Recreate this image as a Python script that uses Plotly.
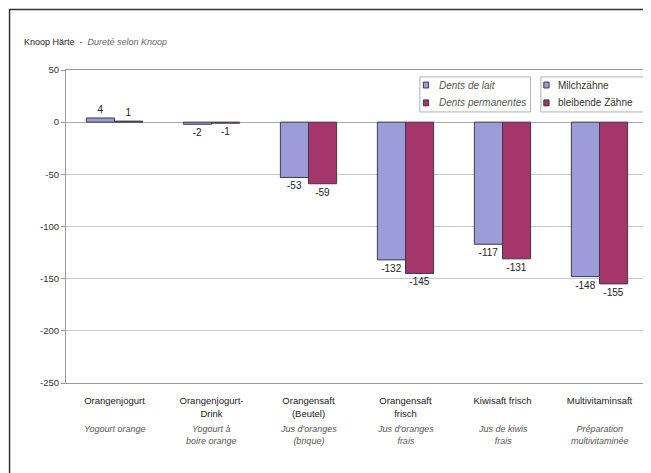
import plotly.graph_objects as go

categories_de = ["Orangenjogurt", "Orangenjogurt-<br>Drink", "Orangensaft<br>(Beutel)",
                 "Orangensaft<br>frisch", "Kiwisaft frisch", "Multivitaminsaft"]
categories_fr = ["Yogourt orange", "Yogourt à<br>boire orange", "Jus d'oranges<br>(brique)",
                 "Jus d'oranges<br>frais", "Jus de kiwis<br>frais", "Préparation<br>multivitaminée"]
keys = ["c1", "c2", "c3", "c4", "c5", "c6"]
milchzaehne = [4, -2, -53, -132, -117, -148]
bleibende = [1, -1, -59, -145, -131, -155]
y_ticks = [50, 0, -50, -100, -150, -200, -250]
y_ticktext = ["50", "0", "-50", "-100", "-150", "-200", "-250"]
series_de = ["Milchzähne", "bleibende Zähne"]
series_fr = ["Dents de lait", "Dents permanentes"]

BLUE = "#9d9bd8"
RED = "#a6356c"
COLORS = [BLUE, RED]
FONT = "Liberation Sans, Arial, sans-serif"
EDGE = "#3a3a4a"

fig = go.Figure()
for name, vals, col in zip(series_de, [milchzaehne, bleibende], COLORS):
    fig.add_trace(go.Bar(x=keys, y=vals, name=name, marker_color=col,
                         marker_line=dict(color=EDGE, width=1),
                         text=[str(v) for v in vals], textposition="outside",
                         textfont=dict(size=10, color="#222"), cliponaxis=False))

for k, fr in zip(keys, categories_fr):
    fig.add_annotation(x=k, xref="x", y=-0.125, yref="paper", yanchor="top",
                       text="<i>" + fr + "</i>", showarrow=False,
                       font=dict(family=FONT, size=9, color="#555"))

fig.add_annotation(x=-0.0756, xref="paper", y=1.089, yref="paper", xanchor="left",
                   yanchor="middle",
                   text="Knoop Härte  -  <i><span style='color:#666'>Dureté selon Knoop</span></i>",
                   showarrow=False, font=dict(family=FONT, size=9, color="#222"))

# outer frame
fig.add_shape(type="rect", xref="paper", yref="paper", x0=-0.097, x1=1.2, y0=-0.5, y1=1.193,
              line=dict(color="#333", width=1.5), layer="below")

# two legend boxes (French / German)
boxes = [
    dict(x0=0.608, x1=0.798, mx=0.6185, tx=0.6375, labels=series_fr, italic=True, color="#555"),
    dict(x0=0.816, x1=1.0, mx=0.8255, tx=0.8425, labels=series_de, italic=False, color="#333"),
]
row_y = [0.952, 0.895]
for b in boxes:
    fig.add_shape(type="rect", xref="paper", yref="paper", x0=b["x0"], x1=b["x1"],
                  y0=0.866, y1=0.978, line=dict(color="#b0b0b0", width=1),
                  fillcolor="white", layer="above")
    for lab, yy, col in zip(b["labels"], row_y, COLORS):
        fig.add_shape(type="rect", xref="paper", yref="paper", x0=b["mx"] - 0.0045,
                      x1=b["mx"] + 0.0045, y0=yy - 0.0095, y1=yy + 0.0095,
                      line=dict(color=EDGE, width=1), fillcolor=col, layer="above")
        txt = "<i>" + lab + "</i>" if b["italic"] else lab
        fig.add_annotation(x=b["tx"], xref="paper", y=yy, yref="paper", xanchor="left",
                           yanchor="middle", text=txt, showarrow=False,
                           font=dict(family=FONT, size=10, color=b["color"]))

fig.update_layout(
    width=643, height=465,
    margin=dict(l=58, r=3, t=62, b=90),
    plot_bgcolor="white", paper_bgcolor="white",
    barmode="group", bargap=0.42, bargroupgap=0,
    font=dict(family=FONT, size=9, color="#333"),
    xaxis=dict(tickmode="array", tickvals=keys, ticktext=categories_de,
               tickfont=dict(size=9.5, color="#222"), showline=True, linecolor="#999",
               mirror=True, ticks="", showgrid=False, zeroline=False,
               ticklabelstandoff=9),
    yaxis=dict(range=[-250, 50], tickmode="array", tickvals=y_ticks, ticktext=y_ticktext,
               showgrid=True, gridcolor="#c8c8c8",
               gridwidth=1, zeroline=True, zerolinecolor="#aaa", zerolinewidth=1,
               showline=True, linecolor="#999", mirror=True, ticks="outside", ticklen=4,
               tickcolor="#999", tickfont=dict(size=9.5, color="#333")),
    showlegend=False,
)

fig.write_html("out.html")
